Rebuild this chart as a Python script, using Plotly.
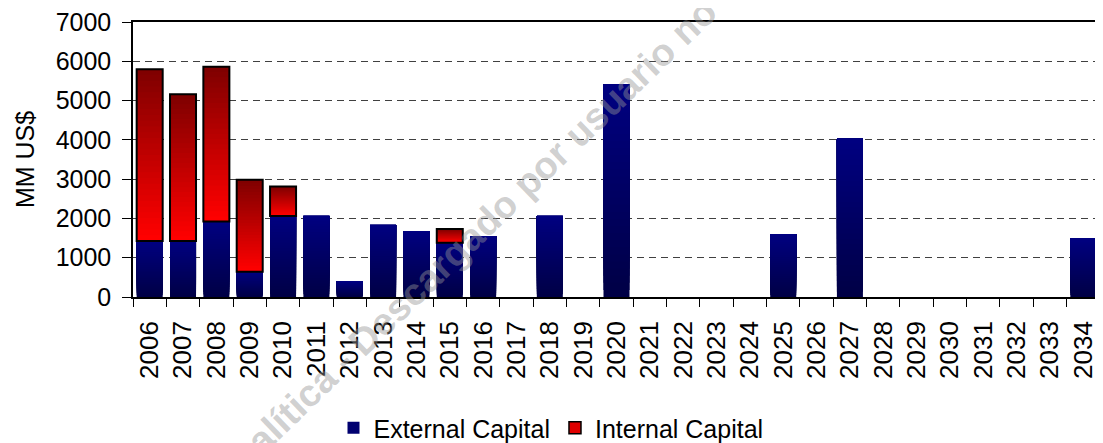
import plotly.graph_objects as go

years = [str(y) for y in range(2006, 2035)]
external_capital = [1425, 1425, 1920, 640, 2065, 2065, 400, 1835, 1680, 1382, 1553, 0, 2065, 0,
                    5415, 0, 0, 0, 0, 1604, 0, 4030, 0, 0, 0, 0, 0, 0, 1502]
internal_capital = [4375, 3735, 3940, 2345, 750, 0, 0, 0, 0, 350, 0, 0, 0, 0,
                    0, 0, 0, 0, 0, 0, 0, 0, 0, 0, 0, 0, 0, 0, 0]

N = 30  # gradient slices


def lerp(c1, c2, t):
    return "rgb(%d,%d,%d)" % tuple(round(a + (b - a) * t) for a, b in zip(c1, c2))


fig = go.Figure()

ext_bottom, ext_top = (0, 0, 70), (0, 0, 128)
int_bottom, int_top = (255, 0, 0), (128, 0, 0)

# External capital with vertical gradient (each slice runs to the bar top)
for k in range(N):
    t = k / (N - 1)
    base = [v * k / N if v else None for v in external_capital]
    h = [v * (N - k) / N if v else None for v in external_capital]
    fig.add_trace(go.Bar(x=years, y=h, base=base, marker=dict(color=lerp(ext_bottom, ext_top, t), line=dict(width=0)),
                         showlegend=False, hoverinfo="skip"))

# Internal capital with gradient, stacked on external
for k in range(N):
    t = k / (N - 1)
    base = [e + v * k / N if v else None for e, v in zip(external_capital, internal_capital)]
    h = [v * (N - k) / N if v else None for v in internal_capital]
    fig.add_trace(go.Bar(x=years, y=h, base=base, marker=dict(color=lerp(int_bottom, int_top, t), line=dict(width=0)),
                         showlegend=False, hoverinfo="skip"))

# Outline of internal segments
fig.add_trace(go.Bar(x=years, y=[v if v else None for v in internal_capital],
                     base=[e if v else None for e, v in zip(external_capital, internal_capital)],
                     marker=dict(color="rgba(0,0,0,0)", line=dict(color="black", width=2)),
                     showlegend=False, hoverinfo="skip"))

# Legend entries
fig.add_trace(go.Bar(x=[years[0]], y=[None], name="External Capital",
                     marker=dict(color="#000070", line=dict(width=0))))
fig.add_trace(go.Bar(x=[years[0]], y=[None], name="Internal Capital",
                     marker=dict(color="#e00000", line=dict(color="black", width=1.5))))

# page body has an 8px default margin: work in target pixels and shift
OFF = 8
W, H = 1103 - OFF, 443 - OFF
pl, pt = 133 - OFF, 22 - OFF
pr = W - (1100 - OFF)
pb = H - (297 - OFF)
pw, ph = W - pl - pr, H - pt - pb


def px_to_paper(x, y):
    return (x - OFF - pl) / pw, 1 - (y - OFF - pt) / ph


wxp, wyp = px_to_paper(482, 226)
fig.add_annotation(text="<b>alítica - Descargado por usuario no</b>",
                   x=wxp, y=wyp, xref="paper", yref="paper",
                   xanchor="center", yanchor="middle",
                   showarrow=False, textangle=-44,
                   font=dict(family="Liberation Sans", size=38, color="rgba(150,150,150,0.45)"))

lxp, lyp = px_to_paper(551, 428)
fig.update_layout(
    width=W, height=H,
    margin=dict(l=pl, r=pr, t=pt, b=pb, autoexpand=False),
    paper_bgcolor="white", plot_bgcolor="white",
    barmode="overlay", bargap=0.22,
    font=dict(family="Liberation Sans", size=25, color="black"),
    legend=dict(orientation="h", x=lxp, xanchor="center", y=lyp, yanchor="middle",
                font=dict(size=25), traceorder="normal", itemwidth=30),
    showlegend=True,
)
fig.update_xaxes(type="category", categoryorder="array", categoryarray=years, automargin=False,
                 tickangle=-90, showline=True, linecolor="black", linewidth=1.5, mirror=True,
                 ticks="outside", tickson="boundaries", ticklen=8, tickcolor="black",
                 ticklabelstandoff=12, ticklabeloverflow="allow",
                 showgrid=False, tickfont=dict(size=26))
fig.update_yaxes(range=[0, 7000], dtick=1000, showline=True, linecolor="black", linewidth=1.5, mirror=True,
                 automargin=False,
                 ticks="outside", ticklen=9, tickcolor="black", ticklabelstandoff=6,
                 ticklabeloverflow="allow",
                 showgrid=True, gridcolor="#404040", gridwidth=1, griddash="7px,5px",
                 zeroline=False, tickfont=dict(size=25),
                 title=dict(text="MM US$", font=dict(size=25), standoff=14))

fig.write_html("out.html")
